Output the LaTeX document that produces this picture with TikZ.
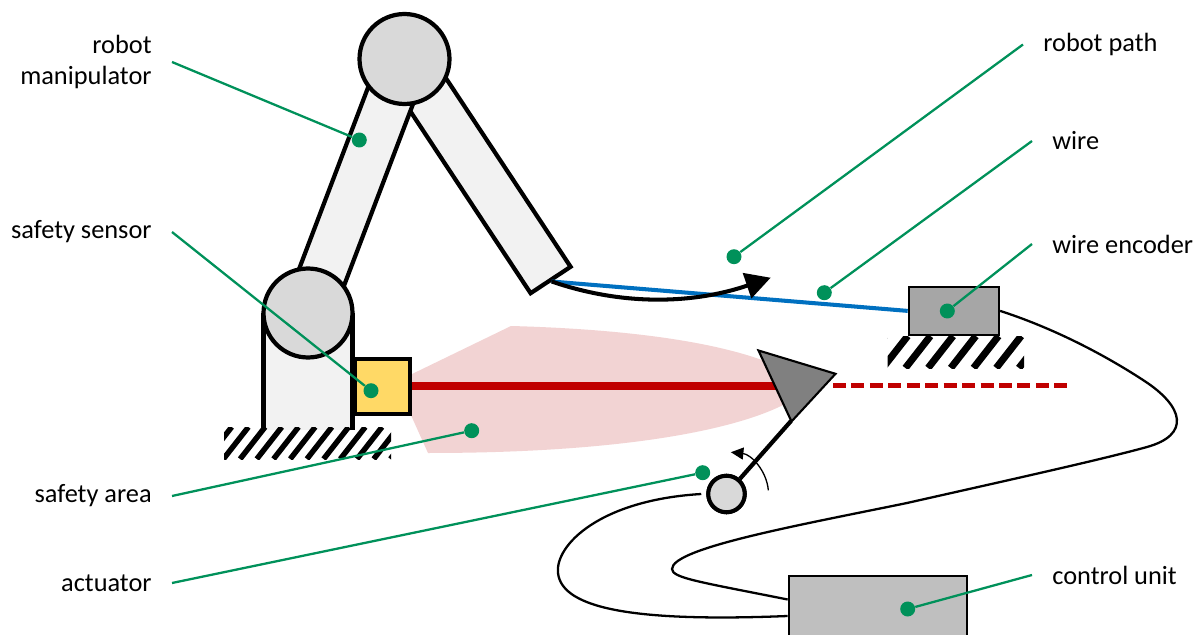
\documentclass[tikz,border=0pt]{standalone}
\usepackage{fontspec}
\setmainfont{Carlito}
\usetikzlibrary{arrows.meta}
\definecolor{leadgreen}{RGB}{0,145,90}
\definecolor{linkgray}{RGB}{242,242,242}
\definecolor{jointgray}{RGB}{217,217,217}
\definecolor{sensoryellow}{RGB}{255,217,102}
\definecolor{beamred}{RGB}{192,0,0}
\definecolor{areapink}{RGB}{242,211,211}
\definecolor{wireblue}{RGB}{0,112,192}
\definecolor{encgray}{RGB}{166,166,166}
\definecolor{unitgray}{RGB}{191,191,191}
\definecolor{trigray}{RGB}{128,128,128}

\begin{document}
\begin{tikzpicture}[x=0.02cm, y=-0.02cm,
  link/.style={fill=linkgray, draw=black, line width=2.4pt},
  joint/.style={circle, fill=jointgray, draw=black, line width=2.4pt, inner sep=0pt},
  box/.style={rectangle, draw=black, inner sep=0pt},
  lbl/.style={font=\fontsize{15}{17.8}\selectfont, inner xsep=0.4cm, inner ysep=0pt},
  leader/.style={draw=leadgreen, line width=1.3pt},
  ldot/.style={circle, fill=leadgreen, inner sep=0pt, minimum size=0.3cm},
  cable/.style={draw=black, line width=1.3pt},
  hatchline/.style={draw=black, line width=#1},
]
\useasboundingbox (0,0) rectangle (1201,635);
\clip (0,0) rectangle (1201,635);

% safety area in front of the sensor
\fill[areapink] (410,375) -- (511,326)
  .. controls (660,330) and (770,350) .. (810,386)
  .. controls (780,420) and (660,453) .. (428,453)
  -- (410,413) -- cycle;

% robot arm: links, base column and joints
\draw[link] (424.5,45.8) -- (570.6,266.8) -- (530.6,293.2) -- (384.5,72.2) -- cycle;
\draw[link] (330.4,321.5) -- (426.9,67.5) -- (382.1,50.5) -- (285.6,304.5) -- cycle;
\fill[linkgray] (263.5,313) rectangle (352.5,430);
\draw[line width=2.4pt] (263.5,430) -- (263.5,313);
\draw[line width=2.4pt] (352.5,430) -- (352.5,313);
\node[joint, minimum size=1.78cm] (j0) at (308,313) {};
\node[joint, minimum size=1.8cm] (j1) at (404.5,59) {};
\coordinate (ee) at (551.7,281.5);

% ground under the robot
\begin{scope}
  \clip (224,427) rectangle (391,459);
  \foreach \x in {190,206.7,...,400} \draw[hatchline=3.1pt] (\x,459) -- ++(25,-32);
\end{scope}

% safety sensor and its beam
\node[box, fill=sensoryellow, line width=2.3pt, minimum width=1.094cm, minimum height=1.1cm] (sensor) at (382.3,386.2) {};
\coordinate (beamend) at (795,386.2);
\draw[beamred, line width=4.5pt] (sensor.east) -- (beamend);
\coordinate (dashstart) at (833,385.7);
\coordinate (dashend) at (1071,385.7);
\draw[beamred, line width=2.8pt, dash pattern=on 7.4pt off 3.1pt] (dashstart) -- (dashend);

% wire encoder on its ground
\begin{scope}
  \clip (887.7,336) rectangle (1024,368);
  \foreach \x in {860,882.7,...,1030} \draw[hatchline=4pt] (\x,368) -- ++(25,-32);
\end{scope}
\node[box, fill=encgray, line width=1.2pt, minimum width=1.806cm, minimum height=0.954cm] (enc) at (953.9,310.9) {};

% wire and robot path
\draw[wireblue, line width=2.3pt] (ee) -- (enc.west);
\coordinate (pathtip) at (770.7,277.7);
\draw[line width=2.3pt, -{Triangle[length=0.5cm,width=0.52cm]}] (ee) .. controls (620,305) and (690,305) .. (pathtip);

% control unit and cables
\node[box, fill=unitgray, line width=1.2pt, minimum width=3.56cm, minimum height=1.6cm] (cu) at (877.7,616) {};
\coordinate (cuA) at ([yshift=0.33cm]cu.west);
\coordinate (cuB) at (cu.west);

% actuator
\node[joint, line width=2.3pt, minimum size=0.73cm] (act) at (726.5,494) {};
\draw[line width=2.4pt] (791,421) -- (act);
\filldraw[fill=trigray, line width=1.2pt] (758.5,350.5) -- (835.5,373.8) -- (791.5,421.5) -- cycle;
\node[joint, line width=2.3pt, minimum size=0.73cm] at (act) {};
\draw[line width=0.75pt, -{Triangle[length=0.25cm,width=0.24cm]}]
  (act.center) ++(-5:42) arc[start angle=-5, end angle=-84, radius=42];

\coordinate (actout) at ([xshift=-0.1cm]act.west);
\draw[cable] (enc.east)
  .. controls (1050,327) and (1100,352) .. (1143,380)
  .. controls (1185,407) and (1190,435) .. (1147,447)
  .. controls (1100,460) and (1000,482) .. (907,503)
  .. controls (800,525) and (672,548) .. (672,569)
  .. controls (672,578) and (700,582) .. (cuA);
\draw[cable] (actout)
  .. controls (600,500) and (555,545) .. (558,573)
  .. controls (562,610) and (640,622) .. (cuB);

% labels with leader lines
\node[lbl, anchor=east, align=right] (rm) at (172,62) {robot\\manipulator};
\node[lbl, anchor=east] (ss) at (172,232) {safety sensor};
\node[lbl, anchor=east] (sa) at (172,496) {safety area};
\node[lbl, anchor=east] (ac) at (172,583) {actuator};
\node[lbl, anchor=west] (rp) at (1023,44.5) {robot path};
\node[lbl, anchor=west] (wi) at (1032,141) {wire};
\node[lbl, anchor=west] (we) at (1032,244) {wire encoder};
\node[lbl, anchor=west] (cl) at (1032,575) {control unit};

\node[ldot] (rmdot) at (359.3,140) {};
\node[ldot] (ssdot) at (371,390.7) {};
\node[ldot] (sadot) at (471.7,430.7) {};
\node[ldot] (acdot) at (702.7,472.7) {};
\node[ldot] (rpdot) at (734,256.7) {};
\node[ldot] (widot) at (824.3,292.7) {};
\node[ldot] (wedot) at (947.3,311) {};
\node[ldot] (cldot) at (907.7,609) {};

\draw[leader] (rm.east) -- (rmdot);
\draw[leader] (ss.east) -- (ssdot);
\draw[leader] (sa.east) -- (sadot);
\draw[leader] (ac.east) -- (acdot);
\draw[leader] (rp.west) -- (rpdot);
\draw[leader] (wi.west) -- (widot);
\draw[leader] (we.west) -- (wedot);
\draw[leader] (cl.west) -- (cldot);
\end{tikzpicture}
\end{document}
